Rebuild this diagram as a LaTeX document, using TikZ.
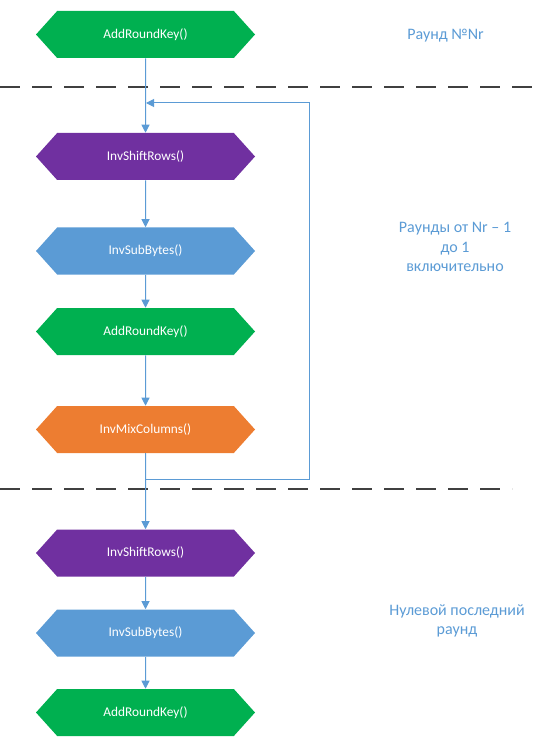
\documentclass[tikz,border=0pt]{standalone}
\usepackage{fontspec}
\setmainfont{Carlito}
\usetikzlibrary{shapes.symbols, arrows.meta}
\definecolor{keygreen}{HTML}{00B050}
\definecolor{shiftpurple}{HTML}{7030A0}
\definecolor{subblue}{HTML}{5B9BD5}
\definecolor{mixorange}{HTML}{ED7D31}
\definecolor{linkblue}{HTML}{5B9BD5}
\definecolor{notetext}{HTML}{5B9BD5}
\definecolor{sepgray}{HTML}{404040}
\tikzset{
	x=0.75pt, y=-0.75pt,
	op/.style={signal, signal to=west and east, signal pointer angle=96,
		minimum width=164.25pt, minimum height=35.25pt, inner sep=0pt,
		draw=none, text=white, font=\fontsize{10}{12}\selectfont},
	note/.style={align=center, text=notetext, font=\fontsize{12}{14.6}\selectfont},
	link/.style={draw=linkblue, line width=0.75pt, -{Triangle[length=6pt,width=6pt]}},
	sep/.style={draw=sepgray, line width=1.1pt, dash pattern=on 15pt off 9pt},
}
\begin{document}
\begin{tikzpicture}
	\useasboundingbox (0,0) rectangle (533,741);
	\node[op, fill=keygreen] (ark1) at (145.5,34.5) {AddRoundKey()};
	\node[op, fill=shiftpurple] (isr1) at (145.5,156.5) {InvShiftRows()};
	\node[op, fill=subblue] (isb1) at (145.5,251) {InvSubBytes()};
	\node[op, fill=keygreen] (ark2) at (145.5,331.5) {AddRoundKey()};
	\node[op, fill=mixorange] (imc) at (145.5,429.5) {InvMixColumns()};
	\node[op, fill=shiftpurple] (isr2) at (145.5,553) {InvShiftRows()};
	\node[op, fill=subblue] (isb2) at (145.5,633) {InvSubBytes()};
	\node[op, fill=keygreen] (ark3) at (145.5,712.5) {AddRoundKey()};
	% round labels
	\node[note] (roundnr) at (445.5,36) {Раунд №Nr};
	\node[note] (roundmid) at (455,247) {Раунды от Nr – 1\\до 1\\включительно};
	\node[note] (roundzero) at (457,621) {Нулевой последний\\раунд};
	% separators
	\draw[sep] (0,87) -- (533,87);
	\draw[sep] (0,489) -- (512,489);
	% flow
	\draw[link] (ark1) -- (isr1);
	\draw[link] (isr1) -- (isb1);
	\draw[link] (isb1) -- (ark2);
	\draw[link] (ark2) -- (imc);
	\draw[link] (imc) -- (isr2);
	\draw[link] (isr2) -- (isb2);
	\draw[link] (isb2) -- (ark3);
	% loop back
	\coordinate (loopcorner) at (309,479);
	\coordinate (loopend) at (146,103);
	\draw[link] (imc.south) |- (loopcorner) |- (loopend);
\end{tikzpicture}
\end{document}
